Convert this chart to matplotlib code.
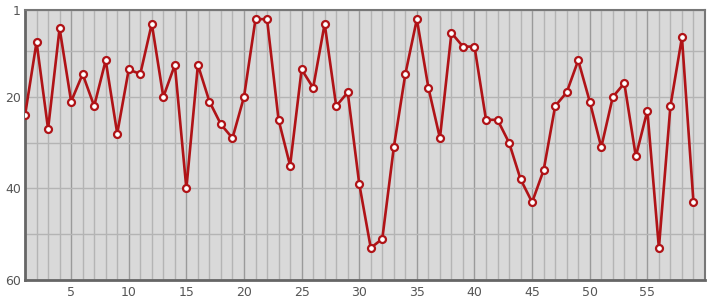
import matplotlib
matplotlib.use("Agg")
import matplotlib.pyplot as plt
from matplotlib.ticker import MultipleLocator, FixedLocator

# posições (1..59) e valores
posicoes = list(range(1, 60))
valores = [24, 8, 27, 5, 21, 15, 22, 12, 28, 14,
           15, 4, 20, 13, 40, 13, 21, 26, 29, 20,
           3, 3, 25, 35, 14, 18, 4, 22, 19, 39,
           53, 51, 31, 15, 3, 18, 29, 6, 9, 9,
           25, 25, 30, 38, 43, 36, 22, 19, 12, 21,
           31, 20, 17, 33, 23, 53, 22, 7, 43]

x_ticks = [5, 10, 15, 20, 25, 30, 35, 40, 45, 50, 55]
y_ticks = [1, 20, 40, 60]

cor_linha = "#b01317"
cor_fundo = "#d9d9d9"

fig = plt.figure(figsize=(7.15, 3.0), dpi=100)
ax = fig.add_axes([0.035, 0.0667, 0.951, 0.9])
ax.set_facecolor(cor_fundo)

ax.plot(posicoes, valores, color=cor_linha, linewidth=1.9, marker="o",
        markersize=5, markerfacecolor="white", markeredgecolor=cor_linha,
        markeredgewidth=1.6, zorder=5)

ax.set_xlim(1, 60)
ax.set_ylim(60, 1)

ax.xaxis.set_major_locator(FixedLocator(x_ticks))
ax.xaxis.set_minor_locator(MultipleLocator(1))
ax.yaxis.set_major_locator(FixedLocator(y_ticks))
ax.yaxis.set_minor_locator(FixedLocator([10, 30, 50]))

# grade: maiores mais escuras na vertical
ax.grid(which="major", axis="x", color="#9a9a9a", linewidth=1)
ax.grid(which="minor", axis="x", color="#b4b4b4", linewidth=1)
ax.grid(which="both", axis="y", color="#b4b4b4", linewidth=1)
ax.set_axisbelow(True)

ax.tick_params(which="both", length=0, labelsize=9, labelcolor="#555555", pad=4)
ax.tick_params(axis="y", pad=3)

for lado in ["left", "bottom"]:
    ax.spines[lado].set_color("#666666")
    ax.spines[lado].set_linewidth(2)
for lado in ["top", "right"]:
    ax.spines[lado].set_color("#777777")
    ax.spines[lado].set_linewidth(1.5)

fig.savefig("out.png", dpi=100)
